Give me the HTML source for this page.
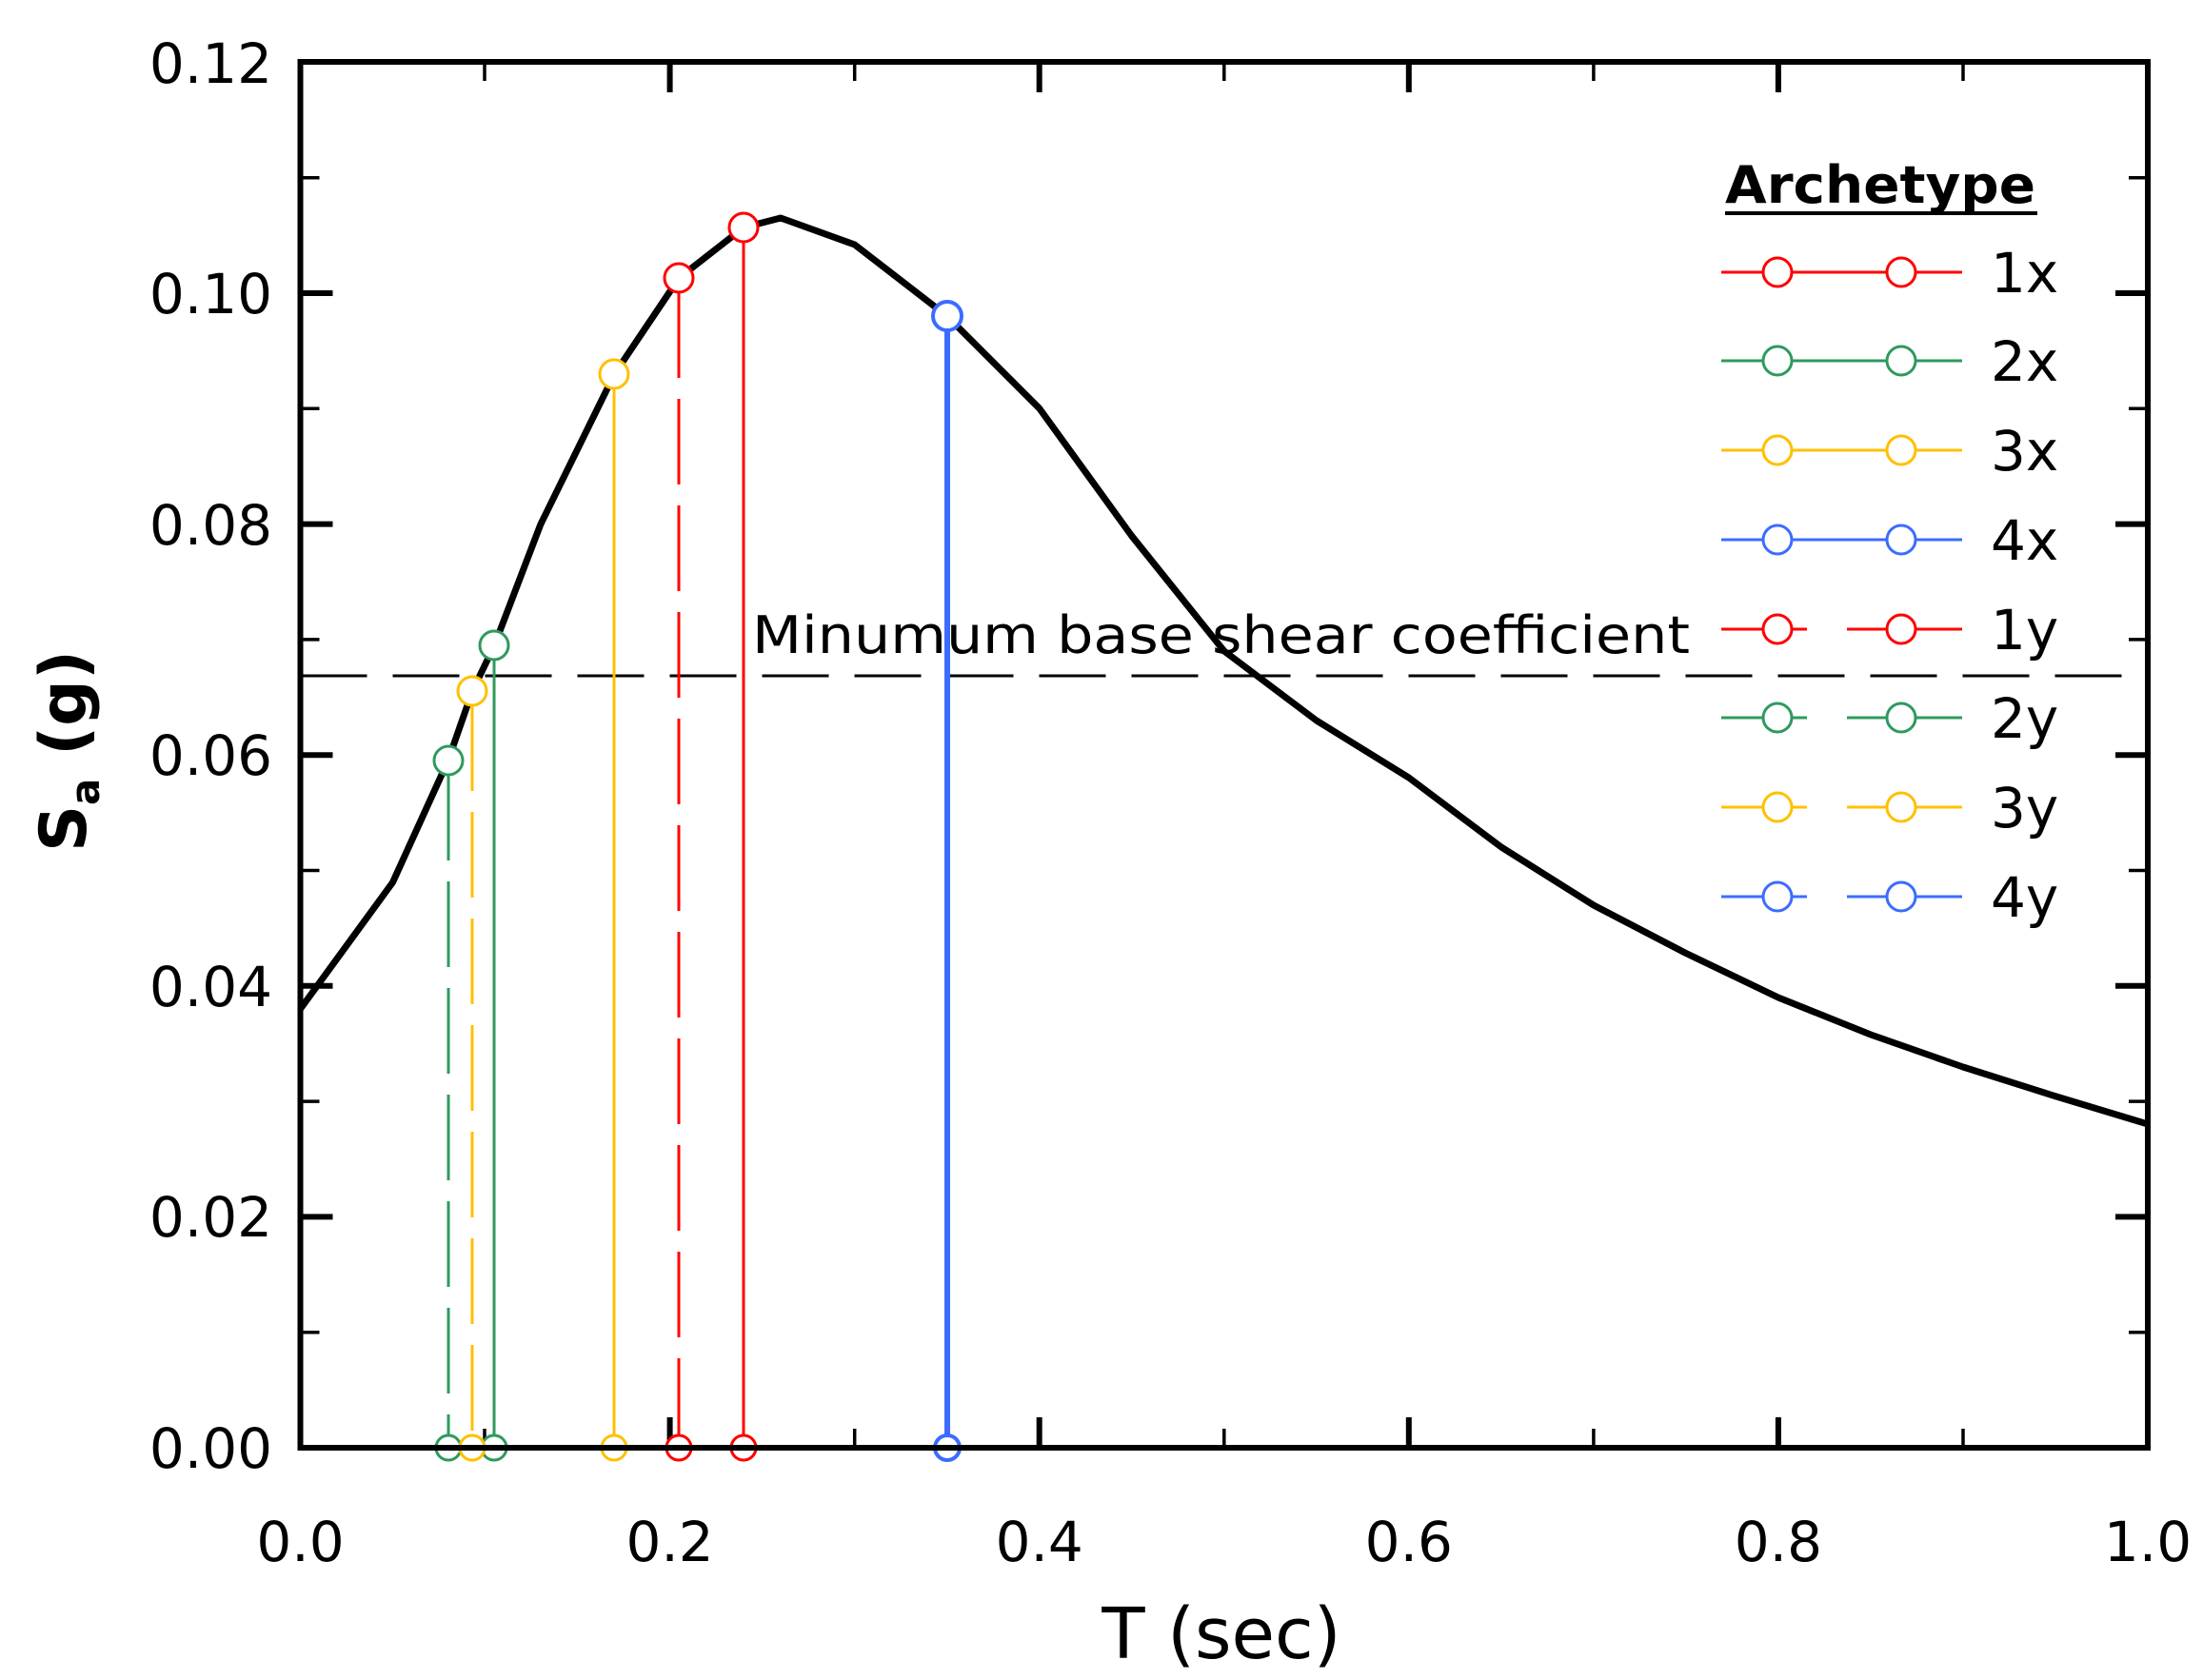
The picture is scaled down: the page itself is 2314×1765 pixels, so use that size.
<!DOCTYPE html>
<html><head><meta charset="utf-8"><style>html,body{margin:0;padding:0;background:#fff}svg{display:block}</style></head>
<body>
<svg width="2314" height="1765" viewBox="0 0 2314 1765" xmlns="http://www.w3.org/2000/svg" font-family="'DejaVu Sans','Liberation Sans',sans-serif">
<rect width="2314" height="1765" fill="#fff"/>
<g stroke="#000" stroke-width="6">
<path d="M315.5 1521v-32M703.6 1521v-32M1091.7 1521v-32M1479.8 1521v-32M1867.9 1521v-32M315.5 65v32M703.6 65v32M1091.7 65v32M1479.8 65v32M1867.9 65v32"/>
<path d="M315.5 1278.4h34M315.5 1035.8h34M315.5 793.2h34M315.5 550.6h34M315.5 308h34M2256 1278.4h-34M2256 1035.8h-34M2256 793.2h-34M2256 550.6h-34M2256 308h-34"/>
</g>
<g stroke="#000" stroke-width="3.5">
<path d="M509 1521v-20M897.7 1521v-20M1285.8 1521v-20M1673.9 1521v-20M2062 1521v-20M509 65v20M897.7 65v20M1285.8 65v20M1673.9 65v20M2062 65v20"/>
<path d="M315.5 1399.7h20M315.5 1157.1h20M315.5 914.5h20M315.5 671.9h20M315.5 429.3h20M315.5 186.7h20M2256 1399.7h-20M2256 1157.1h-20M2256 914.5h-20M2256 671.9h-20M2256 429.3h-20M2256 186.7h-20"/>
</g>
<line x1="315.5" y1="710" x2="2256" y2="710" stroke="#000" stroke-width="3" stroke-dasharray="70,27"/>
<text x="790" y="686" font-size="54" textLength="985" lengthAdjust="spacingAndGlyphs">Minumum base shear coefficient</text>
<g stroke-width="3" fill="none">
<line x1="781" y1="254" x2="781" y2="1521" stroke="#ff0000"/>
<line x1="713" y1="307" x2="713" y2="1521" stroke="#ff0000" stroke-dasharray="90,22"/>
<line x1="519" y1="693" x2="519" y2="1521" stroke="#2e9a5e"/>
<line x1="471" y1="814" x2="471" y2="1521" stroke="#2e9a5e" stroke-dasharray="90,22"/>
<line x1="645" y1="408" x2="645" y2="1521" stroke="#ffc000"/>
<line x1="496" y1="741" x2="496" y2="1521" stroke="#ffc000" stroke-dasharray="90,22"/>
<line x1="995" y1="347" x2="995" y2="1521" stroke="#3c6cff" stroke-width="6"/>
</g>
<polyline fill="none" stroke="#000" stroke-width="7" stroke-linejoin="round" points="315.5,1060 412.5,927 470.7,799 496,726.5 519.3,678 567.8,551 645.4,393 713.3,292 781.2,239 820,229 897.7,257 994.7,332 1091.7,429 1188.7,563 1285.8,684 1382.8,757 1479.8,817 1577,890 1673.9,951 1770,1001 1867.9,1048 1965,1087 2062,1121 2160,1152 2256,1181"/>
<g fill="#fff" stroke-width="3">
<circle cx="781" cy="239" r="15" stroke="#ff0000"/><circle cx="781" cy="1521" r="13" stroke="#ff0000"/>
<circle cx="713" cy="292" r="15" stroke="#ff0000"/><circle cx="713" cy="1521" r="13" stroke="#ff0000"/>
<circle cx="519" cy="678" r="15" stroke="#2e9a5e"/><circle cx="519" cy="1521" r="13" stroke="#2e9a5e"/>
<circle cx="471" cy="799" r="15" stroke="#2e9a5e"/><circle cx="471" cy="1521" r="13" stroke="#2e9a5e"/>
<circle cx="645" cy="393" r="15" stroke="#ffc000"/><circle cx="645" cy="1521" r="13" stroke="#ffc000"/>
<circle cx="496" cy="726" r="15" stroke="#ffc000"/><circle cx="496" cy="1521" r="13" stroke="#ffc000"/>
<circle cx="995" cy="332" r="15" stroke="#3c6cff" stroke-width="4"/><circle cx="995" cy="1521" r="13" stroke="#3c6cff" stroke-width="4"/>
</g>
<rect x="315.5" y="65" width="1940.5" height="1456" fill="none" stroke="#000" stroke-width="6"/>
<g font-size="58" text-anchor="end">
<text x="286" y="1542">0.00</text><text x="286" y="1299">0.02</text><text x="286" y="1057">0.04</text><text x="286" y="814">0.06</text><text x="286" y="572">0.08</text><text x="286" y="329">0.10</text><text x="286" y="87">0.12</text>
</g>
<g font-size="58" text-anchor="middle">
<text x="315.5" y="1640">0.0</text><text x="703.6" y="1640">0.2</text><text x="1091.7" y="1640">0.4</text><text x="1479.8" y="1640">0.6</text><text x="1867.9" y="1640">0.8</text><text x="2256" y="1640">1.0</text>
</g>
<text x="1283" y="1742" font-size="74" text-anchor="middle">T (sec)</text>
<g transform="translate(90,789) rotate(-90)"><text x="0" y="0" font-size="68" text-anchor="middle" font-weight="bold">S<tspan font-size="42" dy="14">a</tspan><tspan dy="-14"> (g)</tspan></text></g>
<text x="1812" y="213" font-size="54" font-weight="bold" textLength="326" lengthAdjust="spacingAndGlyphs">Archetype</text>
<line x1="1812" y1="224" x2="2140" y2="224" stroke="#000" stroke-width="4"/>
<g stroke-width="3" fill="#fff">
<g stroke="#ff0000"><line x1="1808" y1="286" x2="2061" y2="286"/><circle cx="1867" cy="286" r="15"/><circle cx="1997" cy="286" r="15"/></g>
<g stroke="#2e9a5e"><line x1="1808" y1="379" x2="2061" y2="379"/><circle cx="1867" cy="379" r="15"/><circle cx="1997" cy="379" r="15"/></g>
<g stroke="#ffc000"><line x1="1808" y1="473" x2="2061" y2="473"/><circle cx="1867" cy="473" r="15"/><circle cx="1997" cy="473" r="15"/></g>
<g stroke="#3c6cff"><line x1="1808" y1="567" x2="2061" y2="567"/><circle cx="1867" cy="567" r="15"/><circle cx="1997" cy="567" r="15"/></g>
<g stroke="#ff0000"><path d="M1808 661h90M1940 661h121"/><circle cx="1867" cy="661" r="15"/><circle cx="1997" cy="661" r="15"/></g>
<g stroke="#2e9a5e"><path d="M1808 754h90M1940 754h121"/><circle cx="1867" cy="754" r="15"/><circle cx="1997" cy="754" r="15"/></g>
<g stroke="#ffc000"><path d="M1808 848h90M1940 848h121"/><circle cx="1867" cy="848" r="15"/><circle cx="1997" cy="848" r="15"/></g>
<g stroke="#3c6cff"><path d="M1808 942h90M1940 942h121"/><circle cx="1867" cy="942" r="15"/><circle cx="1997" cy="942" r="15"/></g>
</g>
<g font-size="58" fill="#000">
<text x="2091" y="307">1x</text><text x="2091" y="400">2x</text><text x="2091" y="494">3x</text><text x="2091" y="588">4x</text>
<text x="2091" y="682">1y</text><text x="2091" y="775">2y</text><text x="2091" y="869">3y</text><text x="2091" y="963">4y</text>
</g>
</svg>
</body></html>
